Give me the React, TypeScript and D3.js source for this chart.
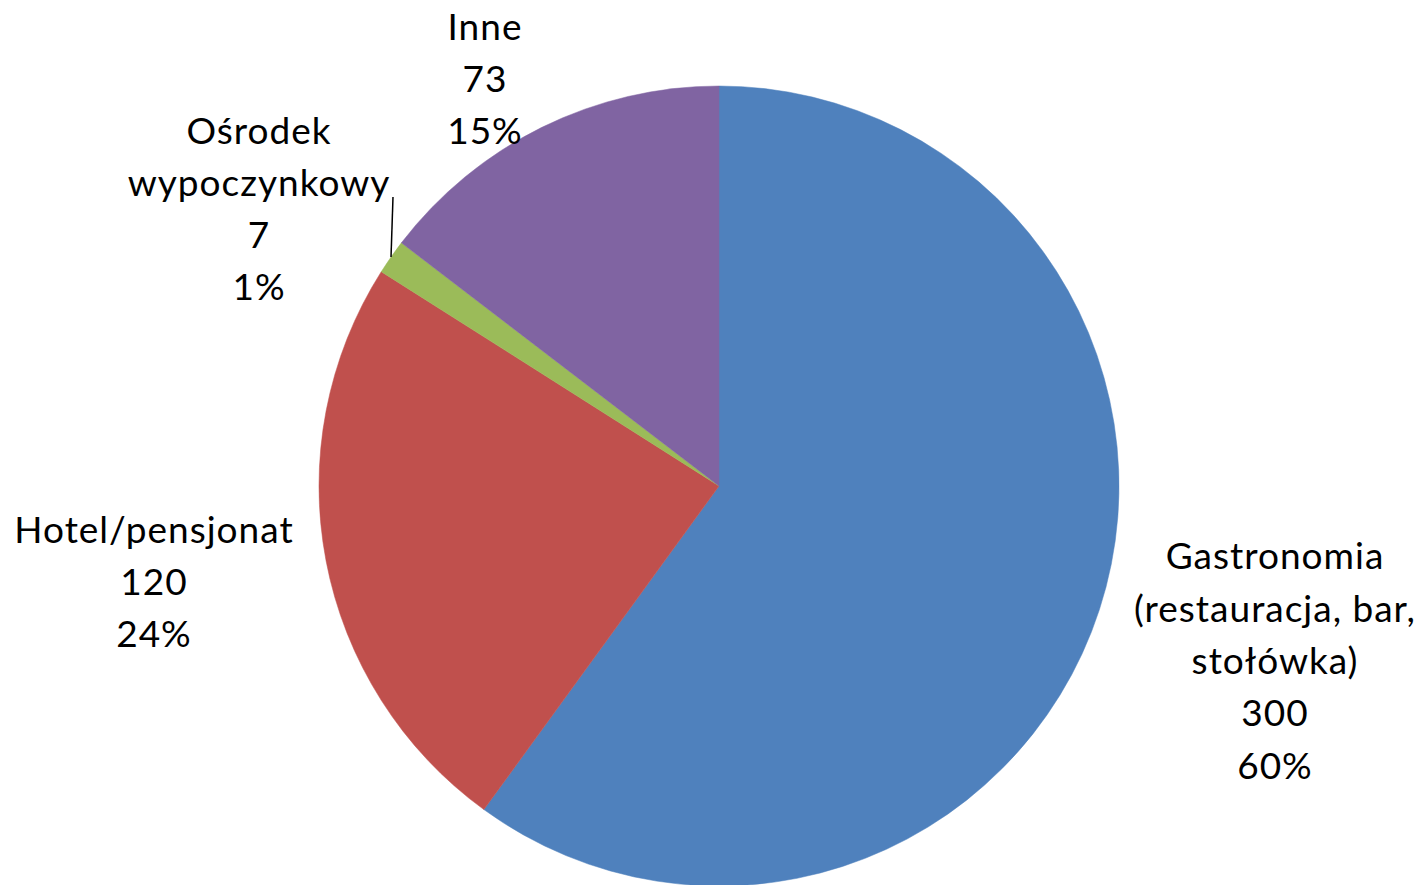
import React from "react";
import * as d3 from "d3";

const categories = ["Gastronomia\n(restauracja, bar,\nstołówka)", "Hotel/pensjonat", "Ośrodek\nwypoczynkowy", "Inne"];
const values = [300, 120, 7, 73];
const colors = ["#4F81BD", "#C0504D", "#9BBB59", "#8064A2"];

// label block centres (layout)
const labelPos: [number, number][] = [
  [1275, 661],
  [154, 582],
  [259, 209],
  [485, 79],
];

const W = 1426;
const H = 885;
const cx = 719;
const cy = 486;
const R = 400;
const LH = 52.3;

export default function App() {
  const total = d3.sum(values);
  const pie = d3.pie<number>().sort(null).value((d) => d)(values);
  const arc = d3.arc<d3.PieArcDatum<number>>().innerRadius(0).outerRadius(R);
  const fmt = (v: number) => `${Math.round((v / total) * 100)}%`;

  return (
    <svg
      width={W}
      height={H}
      style={{ position: "absolute", left: 0, top: 0, background: "#fff" }}
      fontFamily="Lato, 'Open Sans', sans-serif"
    >
      <g transform={`translate(${cx},${cy})`}>
        {pie.map((p, i) => (
          <path key={i} d={arc(p) || ""} fill={colors[i]} stroke={colors[i]} strokeWidth={0.5} />
        ))}
      </g>
      {/* leader line for small slice */}
      {(() => {
        const p = pie[2];
        const a = (p.startAngle + p.endAngle) / 2;
        const x1 = cx + R * Math.sin(a);
        const y1 = cy - R * Math.cos(a);
        return <line x1={x1} y1={y1} x2={393} y2={197} stroke="#000" strokeWidth={1.5} />;
      })()}
      {categories.map((c, i) => {
        const lines = [...c.split("\n"), String(values[i]), fmt(values[i])];
        const [lx, ly] = labelPos[i];
        const top = ly - ((lines.length - 1) * LH) / 2;
        return (
          <text key={i} x={lx} textAnchor="middle" fontSize={37} letterSpacing={1} fill="#000">
            {lines.map((l, j) => (
              <tspan key={j} x={lx} y={top + j * LH} dy="0.35em">
                {l}
              </tspan>
            ))}
          </text>
        );
      })}
    </svg>
  );
}
